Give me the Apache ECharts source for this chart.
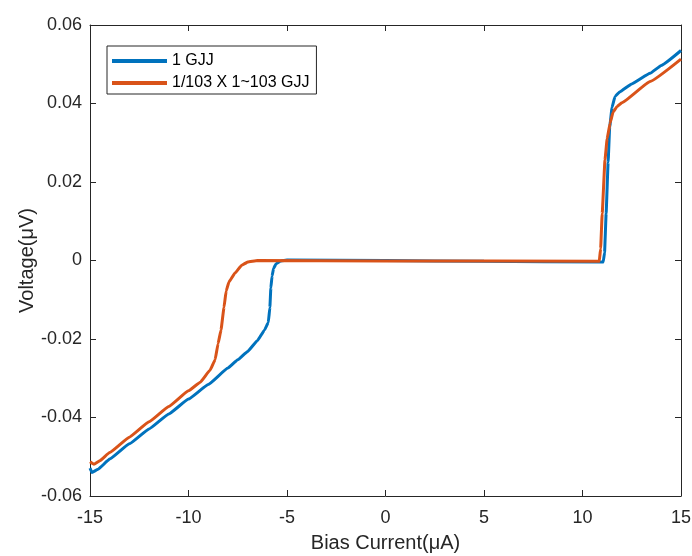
<!DOCTYPE html>
<html>
<head>
<meta charset="utf-8">
<script src="https://cdn.jsdelivr.net/npm/echarts@6/dist/echarts.min.js"></script>
<style>
  html, body { margin: 0; padding: 0; background: #fff; }
  #chart { width: 692px; height: 556px; }
</style>
</head>
<body>
<div id="chart"></div>
<script>
// values: [bias current (uA), voltage (uV)]
const singleJJ = [
  [-15, -0.0529], [-14.9, -0.0540], [-14.6, -0.0532], [-14, -0.0506],
  [-13, -0.0467], [-12, -0.0429], [-11, -0.0391], [-10, -0.0353],
  [-9, -0.0316], [-8, -0.0274], [-7.5, -0.0253], [-7, -0.0232],
  [-6.5, -0.0204], [-6.14, -0.0177], [-5.95, -0.0158], [-5.87, -0.0120],
  [-5.82, -0.0070], [-5.76, -0.0040], [-5.68, -0.0020], [-5.55, -0.0008],
  [-5.3, -0.0001], [-5, 0.0001], [0, 0.0000], [5, -0.0002],
  [11.05, -0.0004], [11.12, 0.0020], [11.2, 0.0120], [11.3, 0.0250],
  [11.38, 0.0340], [11.5, 0.0390], [11.65, 0.0418], [11.9, 0.0430],
  [12.5, 0.0450], [13.43, 0.0477], [14, 0.0497], [15, 0.0535],
];
const averagedJJ = [
  [-15, -0.0513], [-14.8, -0.0519], [-14.5, -0.0510], [-14, -0.0489],
  [-13, -0.0450], [-12, -0.0411], [-11, -0.0372], [-10, -0.0332],
  [-9.4, -0.0310], [-8.9, -0.0279], [-8.65, -0.0253], [-8.5, -0.0212],
  [-8.35, -0.0177], [-8.2, -0.0120], [-8.09, -0.0078], [-7.95, -0.0055],
  [-7.64, -0.0032], [-7.3, -0.0012], [-7.0, -0.0004], [-6.5, 0.0000],
  [0, -0.0001], [10.85, -0.0002], [10.92, 0.0030], [11.0, 0.0120],
  [11.14, 0.0256], [11.25, 0.0310], [11.4, 0.0350], [11.55, 0.0378],
  [11.75, 0.0392], [12, 0.0402], [13.43, 0.0456], [15, 0.0513],
];
const seriesNames = ['1 GJJ', '1/103 X 1~103 GJJ'];
const xTicks = [-15, -10, -5, 0, 5, 10, 15];
const yTicks = ['-0.06', '-0.04', '-0.02', '0', '0.02', '0.04', '0.06'];

const font = 'Liberation Sans, Arial, Helvetica, sans-serif';
const ink = '#262626';

const boxAxis = {
  axisLine: { show: true, onZero: false, lineStyle: { color: ink, width: 1 } },
  axisTick: { show: true, inside: true, length: 6, lineStyle: { color: ink } },
  splitLine: { show: false },
};

const chart = echarts.init(document.getElementById('chart'));
chart.setOption({
  backgroundColor: '#fff',
  animation: false,
  color: ['#0072BD', '#D95319'],
  grid: { left: 90, right: 11, top: 25, bottom: 60, outerBoundsMode: 'none' },
  legend: {
    orient: 'vertical',
    left: 107,
    top: 46,
    padding: [7, 7, 3, 5],
    itemWidth: 55,
    itemHeight: 4,
    itemGap: 6,
    borderColor: ink,
    borderWidth: 1,
    backgroundColor: '#fff',
    textStyle: { fontFamily: font, fontSize: 16, color: '#000' },
    data: seriesNames.map((name) => ({ name, icon: 'rect' })),
  },
  xAxis: [
    {
      ...boxAxis,
      type: 'value',
      position: 'bottom',
      min: xTicks[0],
      max: xTicks[xTicks.length - 1],
      interval: 5,
      name: 'Bias Current(μA)',
      nameLocation: 'middle',
      nameGap: 37,
      nameMoveOverlap: false,
      nameTextStyle: { fontFamily: font, fontSize: 20, color: ink },
      axisLabel: { margin: 13, fontFamily: font, fontSize: 18, color: ink },
    },
    {
      ...boxAxis,
      type: 'value',
      position: 'top',
      min: xTicks[0],
      max: xTicks[xTicks.length - 1],
      interval: 5,
      axisLabel: { show: false },
    },
  ],
  yAxis: [
    {
      ...boxAxis,
      type: 'value',
      position: 'left',
      min: -0.06,
      max: 0.06,
      interval: 0.02,
      name: 'Voltage(μV)',
      nameLocation: 'middle',
      nameGap: 53,
      nameMoveOverlap: false,
      nameTextStyle: { fontFamily: font, fontSize: 20, color: ink },
      axisLabel: {
        margin: 8,
        fontFamily: font,
        fontSize: 18,
        color: ink,
        formatter: (v) => yTicks[Math.round((v + 0.06) / 0.02)],
      },
    },
    {
      ...boxAxis,
      type: 'value',
      position: 'right',
      min: -0.06,
      max: 0.06,
      interval: 0.02,
      axisLabel: { show: false },
    },
  ],
  series: [
    {
      name: seriesNames[0],
      type: 'line',
      data: singleJJ,
      symbol: 'none',
      smooth: 0.1,
      smoothMonotone: 'x',
      lineStyle: { width: 3 },
    },
    {
      name: seriesNames[1],
      type: 'line',
      data: averagedJJ,
      symbol: 'none',
      smooth: 0.1,
      smoothMonotone: 'x',
      lineStyle: { width: 3 },
    },
  ],
});
</script>
</body>
</html>
